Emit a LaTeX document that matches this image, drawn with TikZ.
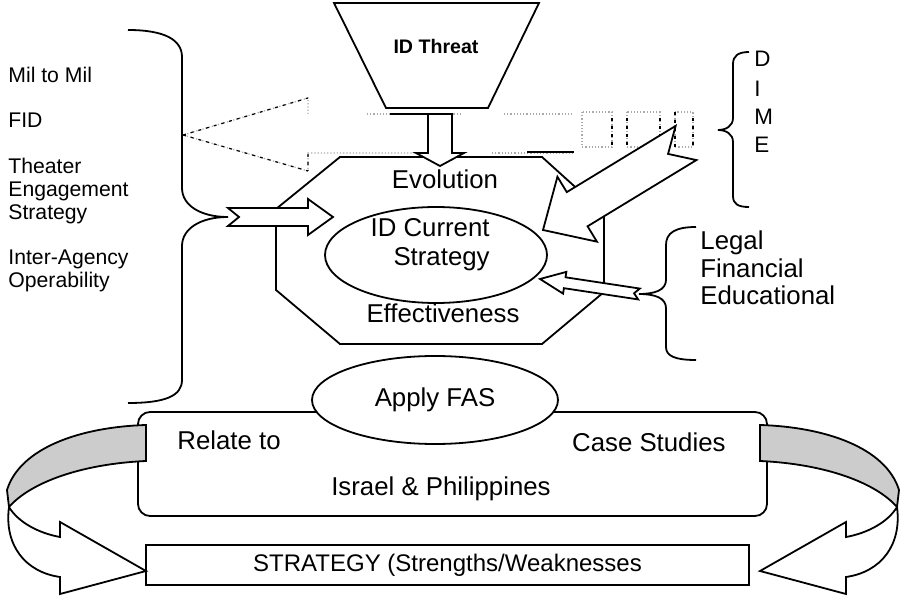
\documentclass[tikz,border=0pt]{standalone}
\usepackage{fontspec}
\setmainfont{Liberation Sans}
\usetikzlibrary{calc,shapes.geometric}
\definecolor{bandgray}{RGB}{204,204,204}
\definecolor{ghostgray}{RGB}{170,170,170}

% block arrow: tail, tip, shaft half width, head half width, head length, notch
\newcommand{\fatarrow}[6]{%
  \coordinate (fa-t) at (#1);
  \coordinate (fa-h) at (#2);
  \coordinate (fa-b) at ($(fa-h)!#5!(fa-t)$);
  \draw[outline] ($(fa-t)!#3!90:(fa-h)$) -- ($(fa-b)!#3!-90:(fa-t)$)
    -- ($(fa-b)!#4!-90:(fa-t)$) -- (fa-h) -- ($(fa-b)!#4!90:(fa-t)$)
    -- ($(fa-b)!#3!90:(fa-t)$) -- ($(fa-t)!#3!-90:(fa-h)$)
    -- ($(fa-t)!#6!(fa-h)$) -- cycle;
}

\begin{document}
\begin{tikzpicture}[x=0.5pt, y=-0.5pt,
    outline/.style={draw=black, line width=0.9pt, fill=white},
    brace/.style={draw=black, line width=0.9pt},
    ghost/.style={draw=ghostgray, densely dotted, line width=0.6pt},
    ghostdark/.style={draw=black, dash pattern=on 1.5pt off 2.5pt, line width=0.6pt},
    maintext/.style={font=\fontsize{12.9}{14.5}\selectfont, inner sep=0pt},
    listtext/.style={font=\fontsize{10.6}{11.5}\selectfont, inner sep=0pt, align=left},
    oval/.style={ellipse, draw=black, line width=0.9pt, fill=white, inner sep=0pt}]
    \useasboundingbox (0,0) rectangle (910,598);

    % Faded arrow behind the core
    \draw[ghost] (308,114) -- (308,98) -- (183,135) -- (308,171) -- (308,153) -- (461,153);
    \draw[ghost] (367,114) -- (461,114) (504,114) -- (574,114) (492,153) -- (574,153);
    \draw[ghost] (582,112) rectangle (612,147) (627,112) rectangle (660,147) (675,112) rectangle (693,147);
    \draw[ghostdark] (183,135) -- (308,98) (183,135) -- (308,171) (308,154) -- (308,171);
    \draw[ghostdark] (612,118) -- (612,147) (627,118) -- (627,147) (660,118) -- (660,147) (675,112) -- (675,147) (693,118) -- (693,147);
    \draw[black, line width=0.6pt] (390,114) -- (428,114) (527,152) -- (574,152);

    % Threat funnel
    \draw[outline] (334,3) -- (539,3) -- (488,108) -- (386,108) -- cycle;
    \node[maintext, font=\bfseries\fontsize{9.8}{11}\selectfont] (threat) at (436,47) {ID Threat};

    % Core octagon
    \draw[outline] (340,157) -- (542,157) -- (604,213) -- (604,292) -- (542,344) -- (340,344) -- (276,290) -- (276,209) -- cycle;
    \node[maintext] (evo) at (445,179) {Evolution};
    \node[maintext] (eff) at (443,313) {Effectiveness};
    \node[oval, minimum width=111pt, minimum height=48pt] (cur) at (436,255) {};
    \node[maintext, align=right, anchor=east] (curtext) at (490,245) {ID Current\\Strategy};

    % Left list
    \node[listtext, anchor=west] (mil) at (8,75) {Mil to Mil};
    \node[listtext, anchor=west] (fid) at (8,120) {FID};
    \node[listtext, anchor=west] (theater) at (8,191) {Theater\\Engagement\\Strategy};
    \node[listtext, anchor=west] (inter) at (8,271) {Inter-Agency\\Operability};
    \coordinate (ltip) at (228,217);
    \draw[brace] (128,30) .. controls (165,30) and (182,40) .. (182,57) -- (182,188)
        .. controls (182,205) and (200,217) .. (ltip)
        .. controls (200,217) and (182,229) .. (182,246) -- (182,380)
        .. controls (182,396) and (165,403) .. (128,403);

    % DIME
    \node[maintext, font=\fontsize{11.2}{13}\selectfont, anchor=west] (d) at (754,59) {D};
    \node[maintext, font=\fontsize{11.2}{13}\selectfont, anchor=west] (i) at (754,89) {I};
    \node[maintext, font=\fontsize{11.2}{13}\selectfont, anchor=west] (m) at (754,117) {M};
    \node[maintext, font=\fontsize{11.2}{13}\selectfont, anchor=west] (e) at (754,145) {E};
    \draw[brace] (749,52) .. controls (738,52) and (733,56) .. (733,64) -- (733,118)
        .. controls (733,126) and (726,130) .. (718,130)
        .. controls (726,130) and (733,134) .. (733,142) -- (733,196)
        .. controls (733,204) and (738,207) .. (749,207);

    % Legal / Financial / Educational
    \node[maintext, font=\fontsize{12.9}{13.75}\selectfont, align=left, anchor=west] (lfe) at (700,268) {Legal\\Financial\\Educational};
    \coordinate (rtip) at (639,294);
    \draw[brace] (696,227) .. controls (675,227) and (666,233) .. (666,245) -- (666,280)
        .. controls (666,290) and (655,294) .. (rtip)
        .. controls (655,294) and (666,298) .. (666,308) -- (666,347)
        .. controls (666,356) and (675,360) .. (696,360);

    % Arrows into the core
    \coordinate (downtail) at (440,114);
    \coordinate (downtip) at (440,166);
    \fatarrow{downtail}{downtip}{6pt}{12pt}{6.5pt}{0pt}
    \coordinate (lefttip) at (333,217);
    \fatarrow{ltip}{lefttip}{4.5pt}{9pt}{12.5pt}{5.5pt}
    \coordinate (dimetail) at (686,143);
    \coordinate (dimetip) at (543,230);
    \fatarrow{dimetail}{dimetip}{10pt}{19pt}{20pt}{10.5pt}
    \coordinate (lfetip) at (540,279);
    \fatarrow{rtip}{lfetip}{2.75pt}{5.5pt}{12.5pt}{2.5pt}

    % Case study box
    \node[draw, line width=0.9pt, rounded corners=6pt, minimum width=314.5pt, minimum height=52pt, inner sep=0pt] (relbox) at (452.5,464) {};
    \node[maintext, anchor=west] (relate) at (177,440) {Relate to};
    \node[maintext, anchor=east] (cases) at (726,442) {Case Studies};
    \node[maintext] (israel) at (441,489) {Israel \& Philippines};
    \node[oval, minimum width=123pt, minimum height=44pt] (fas) at (435,400) {};
    \node[maintext] (fastext) at (fas) {Apply FAS};

    % Strategy box
    \node[draw, line width=0.9pt, fill=white, minimum width=301.5pt, minimum height=20pt, inner sep=0pt,
        font=\fontsize{12}{14}\selectfont] (strat) at (447.5,565) {STRATEGY (Strengths/Weaknesses};

    % Curved return arrows
    \foreach \side in {1,-1} {
    \begin{scope}[shift={({453-453*\side},0)}, xscale=\side]
        \draw[brace, fill=bandgray] (146,425) .. controls (80,427) and (20,448) .. (7,490) -- (9,507)
            .. controls (30,483) and (80,464) .. (146,461) -- cycle;
        \draw[outline] (9,507) .. controls (4,545) and (25,572) .. (60,577) -- (60,594) -- (146,571)
            -- (60,522) -- (60,537) .. controls (38,533) and (18,522) .. (9,507) -- cycle;
    \end{scope}
    }
\end{tikzpicture}
\end{document}
